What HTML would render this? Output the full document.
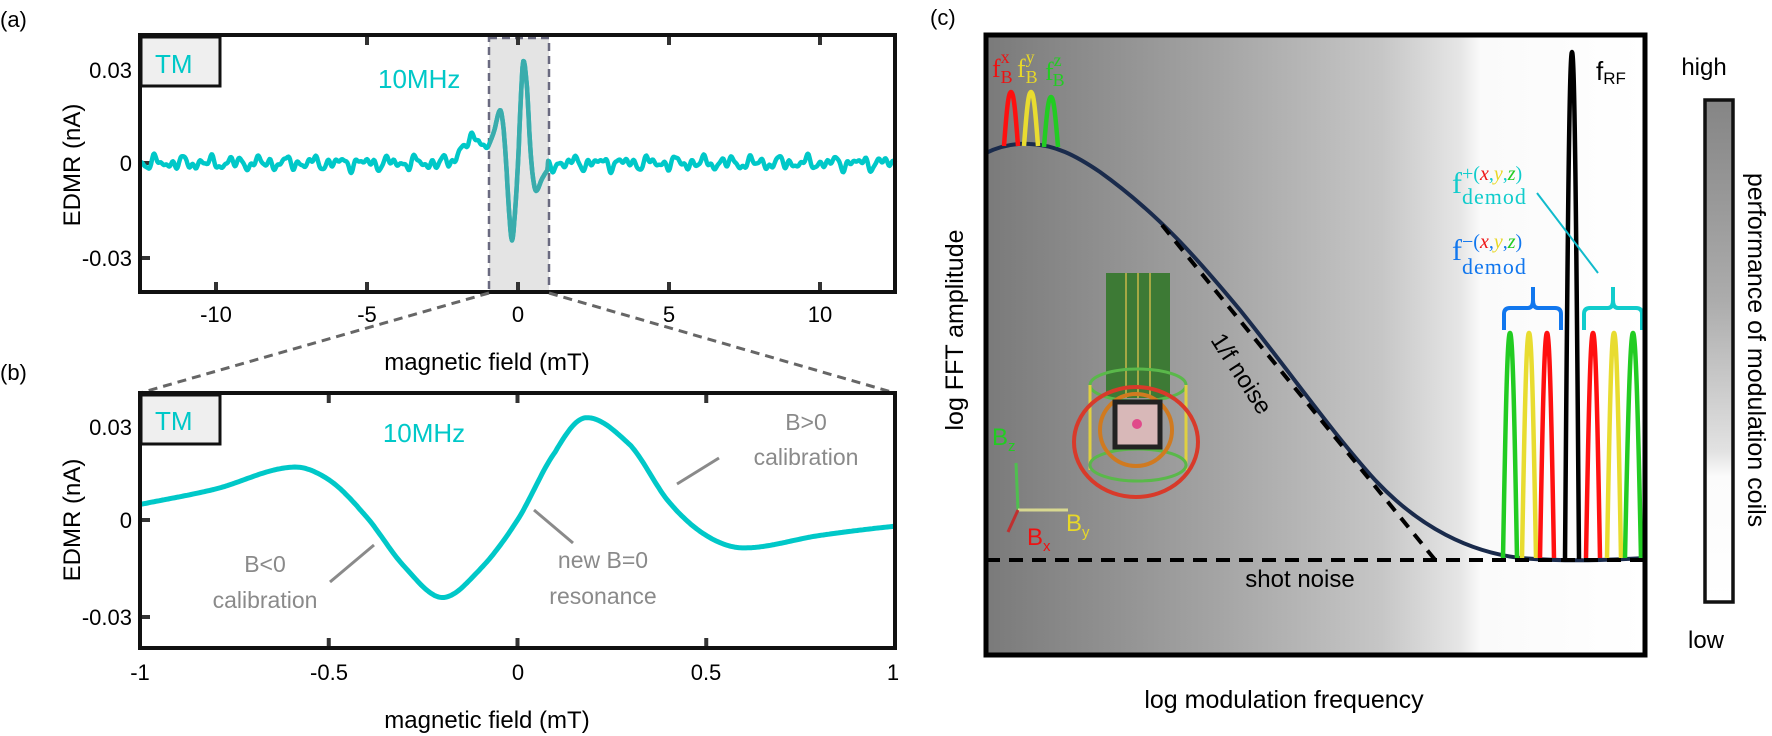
<!DOCTYPE html>
<html><head><meta charset="utf-8"><style>
html,body{margin:0;padding:0;background:#fff;}
svg{display:block;}
text{font-family:"Liberation Sans",sans-serif;}
text.s,text.s tspan{font-family:"Liberation Serif",serif;}
</style></head><body>
<svg id="c" width="1772" height="736" viewBox="0 0 1772 736" xmlns="http://www.w3.org/2000/svg">
<defs>
<linearGradient id="g1" x1="0" x2="1" y1="0" y2="0">
<stop offset="0" stop-color="#7a7a7a"/><stop offset="0.35" stop-color="#a4a4a4"/><stop offset="0.6" stop-color="#c6c6c6"/><stop offset="0.72" stop-color="#e6e6e6"/><stop offset="0.75" stop-color="#fafafa"/><stop offset="1" stop-color="#fff"/>
</linearGradient>
<linearGradient id="g2" x1="0" x2="0" y1="0" y2="1">
<stop offset="0" stop-color="#858585"/><stop offset="0.4" stop-color="#acacac"/><stop offset="0.7" stop-color="#e2e2e2"/><stop offset="0.75" stop-color="#fbfbfb"/><stop offset="1" stop-color="#fff"/>
</linearGradient>
<clipPath id="inr"><rect x="489" y="38" width="60" height="254"/></clipPath>
</defs>
<text x="0" y="27" font-size="22">(a)</text>
<text x="0" y="380" font-size="22">(b)</text>
<text x="930" y="25" font-size="22">(c)</text>

<!-- panel a -->
<rect x="489" y="38" width="60" height="254" fill="#e4e4e4" stroke="#6a6a80" stroke-width="2.5" stroke-dasharray="8,5"/>
<g id="aticks" stroke="#333" stroke-width="4"></g>
<path id="acurve" fill="none" stroke="#00c8c8" stroke-width="4.5" stroke-linejoin="round"/>
<path id="acurve2" fill="none" stroke="#3aacac" stroke-width="4.5" stroke-linejoin="round" clip-path="url(#inr)"/>
<rect x="140" y="35" width="755" height="257" fill="none" stroke="#111" stroke-width="4"/>
<rect x="141" y="37" width="79" height="49" fill="#efefef" stroke="#111" stroke-width="3"/>
<text x="155" y="73" font-size="26" fill="#00c8c8">TM</text>
<text x="378" y="88" font-size="26" fill="#00c8c8">10MHz</text>
<g font-size="22" text-anchor="end"><text x="132" y="78">0.03</text><text x="132" y="171">0</text><text x="132" y="266">-0.03</text></g>
<g font-size="22" text-anchor="middle"><text x="216" y="322">-10</text><text x="367" y="322">-5</text><text x="518" y="322">0</text><text x="669" y="322">5</text><text x="820" y="322">10</text></g>
<text x="487" y="370" font-size="24" text-anchor="middle">magnetic  field (mT)</text>
<text transform="translate(80,165) rotate(-90)" font-size="24" text-anchor="middle">EDMR (nA)</text>
<g stroke="#666" stroke-width="3" stroke-dasharray="9,6"><line x1="489" y1="293" x2="140" y2="393"/><line x1="549" y1="293" x2="895" y2="393"/></g>

<!-- panel b -->
<g id="bticks" stroke="#333" stroke-width="4"></g>
<path id="bcurve" fill="none" stroke="#00c8c8" stroke-width="5" stroke-linejoin="round"/>
<rect x="140" y="393" width="755" height="255" fill="none" stroke="#111" stroke-width="4"/>
<rect x="141" y="395" width="79" height="49" fill="#efefef" stroke="#111" stroke-width="3"/>
<text x="155" y="430" font-size="26" fill="#00c8c8">TM</text>
<text x="424" y="442" font-size="26" fill="#00c8c8" text-anchor="middle">10MHz</text>
<g font-size="22" text-anchor="end"><text x="132" y="435">0.03</text><text x="132" y="528">0</text><text x="132" y="625">-0.03</text></g>
<g font-size="22" text-anchor="middle"><text x="140" y="680">-1</text><text x="329" y="680">-0.5</text><text x="518" y="680">0</text><text x="706" y="680">0.5</text><text x="893" y="680">1</text></g>
<text x="487" y="728" font-size="24" text-anchor="middle">magnetic  field (mT)</text>
<text transform="translate(80,520) rotate(-90)" font-size="24" text-anchor="middle">EDMR (nA)</text>
<g fill="#8a8a8a" font-size="23" text-anchor="middle">
<text x="806" y="430">B&gt;0</text><text x="806" y="465">calibration</text>
<text x="265" y="572">B&lt;0</text><text x="265" y="608">calibration</text>
<text x="603" y="568">new B=0</text><text x="603" y="604">resonance</text>
</g>
<g stroke="#8a8a8a" stroke-width="3"><line x1="719" y1="458" x2="677" y2="484"/><line x1="374" y1="545" x2="330" y2="582"/><line x1="534" y1="510" x2="573" y2="543"/></g>

<!-- panel c -->
<rect x="986" y="35" width="659" height="620" fill="url(#g1)"/>
<g>
<rect x="1106" y="273" width="64" height="125" fill="#3d7a35"/>
<g stroke="#c9b84a" stroke-width="1.5"><line x1="1126" y1="273" x2="1126" y2="398"/><line x1="1138" y1="273" x2="1138" y2="398"/><line x1="1150" y1="273" x2="1150" y2="398"/></g>
<ellipse cx="1138" cy="385" rx="48" ry="16" fill="none" stroke="#5ab84a" stroke-width="3"/>
<path d="M1090,385 L1090,470 M1186,385 L1186,470" stroke="#e0d040" stroke-width="3"/>
<ellipse cx="1138" cy="465" rx="48" ry="16" fill="none" stroke="#5ab84a" stroke-width="3"/>
<ellipse cx="1136" cy="430" rx="36" ry="36" fill="none" stroke="#d07a20" stroke-width="4"/>
<rect x="1115" y="402" width="45" height="45" fill="#d8b8b8" stroke="#222" stroke-width="5"/>
<circle cx="1137" cy="424" r="5" fill="#e04a8a"/>
<ellipse cx="1136" cy="442" rx="62" ry="55" fill="none" stroke="#d83a2a" stroke-width="4"/>
</g>
<text x="992" y="445" font-size="24" fill="#22cc22">B<tspan font-size="15" dy="6">z</tspan></text>
<line x1="1018" y1="510" x2="1016" y2="463" stroke="#4fbf4f" stroke-width="3"/>
<line x1="1018" y1="510" x2="1068" y2="510" stroke="#d8d890" stroke-width="3"/>
<line x1="1018" y1="510" x2="1008" y2="532" stroke="#c03030" stroke-width="3"/>
<text x="1027" y="545" font-size="24" fill="#ee1111">B<tspan font-size="15" dy="6">x</tspan></text>
<text x="1066" y="531" font-size="24" fill="#e8d828">B<tspan font-size="15" dy="6">y</tspan></text>
<path d="M986,153 C1000,146 1015,143 1030,144 C1055,145 1075,155 1100,172 C1160,215 1200,262 1240,310 C1290,372 1330,430 1375,480 C1420,528 1470,552 1520,558 C1570,562 1610,560 1645,558" fill="none" stroke="#1a2b4c" stroke-width="4"/>
<line x1="1162" y1="225" x2="1436" y2="561" stroke="#000" stroke-width="4" stroke-dasharray="12,9"/>
<line x1="986" y1="560" x2="1648" y2="560" stroke="#000" stroke-width="4" stroke-dasharray="14,9"/>
<text transform="translate(1210,340) rotate(57)" font-size="24">1/f  noise</text>
<text x="1300" y="587" font-size="24" text-anchor="middle">shot  noise</text>
<g id="peaks" fill="none" stroke-width="4.5"></g>
<path d="M1504,330 L1504,314 Q1504,308 1510,308 L1528,308 Q1533,308 1533,300 L1533,287 M1533,300 Q1533,308 1538,308 L1555,308 Q1561,308 1561,314 L1561,330" fill="none" stroke="#1177ee" stroke-width="4"/>
<path d="M1584,330 L1584,314 Q1584,308 1590,308 L1608,308 Q1613,308 1613,300 L1613,287 M1613,300 Q1613,308 1618,308 L1636,308 Q1642,308 1642,314 L1642,330" fill="none" stroke="#11cccc" stroke-width="4"/>
<line x1="1537" y1="193" x2="1598" y2="273" stroke="#11bbcc" stroke-width="2"/>
<rect x="986" y="35" width="659" height="620" fill="none" stroke="#000" stroke-width="5"/>
<text class="s" x="992" y="77" font-size="26" fill="#ee1111">f<tspan font-size="18" dy="-14">x</tspan><tspan font-size="18" dx="-9" dy="20">B</tspan></text>
<text class="s" x="1017" y="77" font-size="26" fill="#e8d828">f<tspan font-size="18" dy="-14">y</tspan><tspan font-size="18" dx="-9" dy="20">B</tspan></text>
<text class="s" x="1045" y="80" font-size="26" fill="#22cc22">f<tspan font-size="18" dy="-14">z</tspan><tspan font-size="18" dx="-9" dy="20">B</tspan></text>
<text class="s" x="1452" y="193" font-size="30" fill="#11cccc">f</text>
<text class="s" x="1462" y="180" font-size="20" fill="#11cccc">+(<tspan fill="#ee1111" font-style="italic">x</tspan>,<tspan fill="#e8d828" font-style="italic">y</tspan>,<tspan fill="#22cc22" font-style="italic">z</tspan>)</text>
<text class="s" x="1462" y="204" font-size="22" fill="#11cccc" letter-spacing="1">demod</text>
<text class="s" x="1452" y="260" font-size="30" fill="#1177ee">f</text>
<text class="s" x="1462" y="248" font-size="20" fill="#1177ee">−(<tspan fill="#ee1111" font-style="italic">x</tspan>,<tspan fill="#e8d828" font-style="italic">y</tspan>,<tspan fill="#22cc22" font-style="italic">z</tspan>)</text>
<text class="s" x="1462" y="274" font-size="22" fill="#1177ee" letter-spacing="1">demod</text>
<text x="1596" y="80" font-size="26">f<tspan font-size="17" dy="4">RF</tspan></text>
<text transform="translate(963,330) rotate(-90)" font-size="25" text-anchor="middle">log FFT amplitude</text>
<text x="1284" y="708" font-size="25" text-anchor="middle">log modulation  frequency</text>
<rect x="1705" y="100" width="28" height="502" fill="url(#g2)" stroke="#111" stroke-width="3.5"/>
<text x="1704" y="75" font-size="24" text-anchor="middle">high</text>
<text x="1706" y="648" font-size="24" text-anchor="middle">low</text>
<text transform="translate(1748,350) rotate(90)" font-size="25" text-anchor="middle">performance  of modulation  coils</text>
</svg>
<script>
(function(){
var NS="http://www.w3.org/2000/svg";
function el(p,t,a){var e=document.createElementNS(NS,t);for(var k in a)e.setAttribute(k,a[k]);p.appendChild(e);return e;}
var pts=[[-1.2,0.0],[-1,0.005],[-0.8,0.010],[-0.6,0.017],[-0.5,0.013],[-0.4,0.001],[-0.3,-0.015],[-0.2,-0.025],[-0.1,-0.016],[0,0.0],[0.1,0.022],[0.18,0.033],[0.3,0.024],[0.4,0.006],[0.5,-0.005],[0.6,-0.009],[0.8,-0.005],[1,-0.002],[1.2,0]];
function f(B){ if(B<=pts[0][0]||B>=pts[pts.length-1][0])return 0;
 for(var i=0;i<pts.length-1;i++){ if(B>=pts[i][0]&&B<=pts[i+1][0]){
  var p0=pts[Math.max(i-1,0)],p1=pts[i],p2=pts[i+1],p3=pts[Math.min(i+2,pts.length-1)];
  var t=(B-p1[0])/(p2[0]-p1[0]);var t2=t*t,t3=t2*t;
  return 0.5*((2*p1[1])+(-p0[1]+p2[1])*t+(2*p0[1]-5*p1[1]+4*p2[1]-p3[1])*t2+(-p0[1]+3*p1[1]-3*p2[1]+p3[1])*t3);}}
 return 0;}
var d="";for(var i=0;i<=400;i++){var B=-1+2*i/400;var x=140+(B+1)*377.5;var y=520-f(B)*3100;d+=(i?"L":"M")+x.toFixed(1)+","+y.toFixed(1);}
document.getElementById("bcurve").setAttribute("d",d);
function nz(B){return 0.0011*Math.sin(B*7.3+1)+0.0009*Math.sin(B*13.1+2)+0.0008*Math.sin(B*19.7+0.5)+0.0005*Math.sin(B*29.3+3);}
function fa(B){
 if(B>-1&&B<1)return f(B);
 var v=nz(B);
 if(B>-2.3&&B<=-1)v+=0.009*Math.sin((B+2.3)/1.3*Math.PI/2)+ (B>-1.3? (f(-1)-0.009)*(B+1.3)/0.3 :0);
 if(B>=1&&B<1.3)v+=f(1)*(1.3-B)/0.3;
 return v;}
var da="";
for(var i=0;i<=1000;i++){var B=-12.5+25*i/1000;var x=518+B*30.2,y=163-fa(B)*3100;da+=(i?"L":"M")+x.toFixed(1)+","+y.toFixed(1);}
document.getElementById("acurve").setAttribute("d",da);
document.getElementById("acurve2").setAttribute("d",da);
var at=document.getElementById("aticks");
[-10,-5,0,5,10].forEach(function(b){var x=518+b*30.2;el(at,"line",{x1:x,y1:37,x2:x,y2:45});el(at,"line",{x1:x,y1:290,x2:x,y2:282});});
[70,163,258].forEach(function(y){el(at,"line",{x1:142,y1:y,x2:150,y2:y});});
var bt=document.getElementById("bticks");
[-0.5,0,0.5].forEach(function(b){var x=140+(b+1)*377.5;el(bt,"line",{x1:x,y1:395,x2:x,y2:403});el(bt,"line",{x1:x,y1:646,x2:x,y2:638});});
[427,520,617].forEach(function(y){el(bt,"line",{x1:142,y1:y,x2:150,y2:y});});
var pk=document.getElementById("peaks");
function peak(x,t,b,w,c){var dd="M"+(x-w)+","+b+" C"+(x-w*0.6)+","+(t+(b-t)*0.3)+" "+(x-2.5)+","+t+" "+x+","+t+" C"+(x+2.5)+","+t+" "+(x+w*0.6)+","+(t+(b-t)*0.3)+" "+(x+w)+","+b;el(pk,"path",{d:dd,stroke:c});}
peak(1011,92,146,7,"#ff1010");peak(1031,92,146,7,"#e8dc30");peak(1051,97,147,7,"#22cc22");
peak(1510,333,558,7,"#22cc22");peak(1529,333,558,7,"#e8dc30");peak(1547,333,558,7,"#ff1010");
peak(1593,333,558,7,"#ff1010");peak(1614,333,558,7,"#e8dc30");peak(1633,333,558,8,"#22cc22");
peak(1572,52,559,7,"#000");
})();
</script>
</body></html>
